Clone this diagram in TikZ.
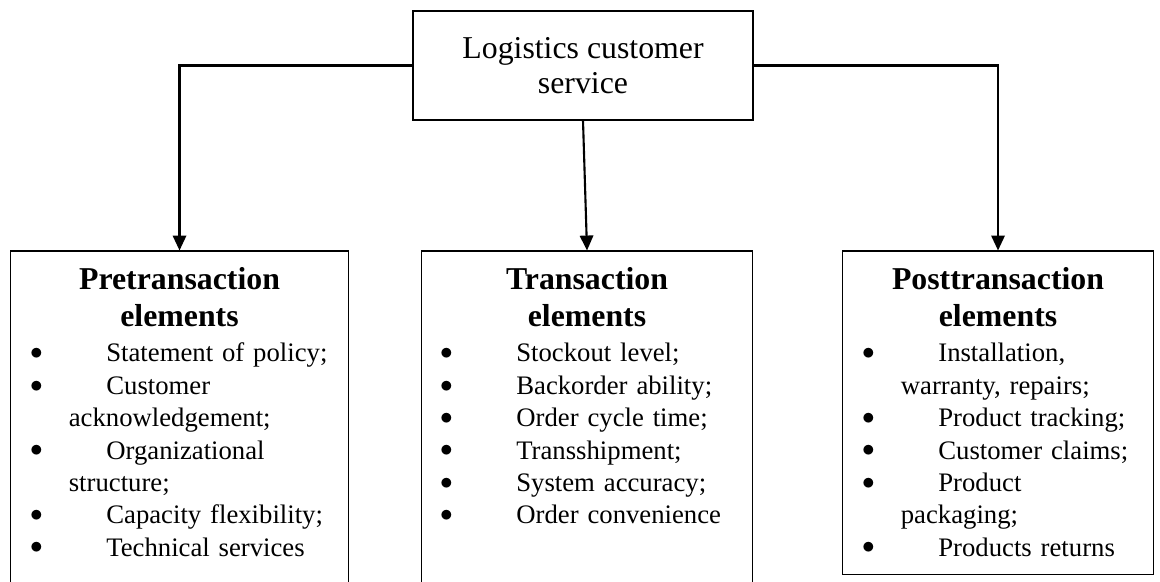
\documentclass[tikz,border=0pt]{standalone}
\usepackage{fontspec}
\setmainfont{Liberation Serif}
\usepackage{tikz}
\usetikzlibrary{arrows.meta}
% list lines: bullet line and wrapped continuation line
\newcommand{\bul}[1]{\makebox[1.48cm][l]{\hspace*{-1.2pt}\raisebox{1.3pt}{$\bullet$}}#1}
\newcommand{\cont}[1]{\hspace*{0.73cm}#1}

\begin{document}
\begin{tikzpicture}[
    box/.style={draw, line width=0.6pt, inner sep=0pt},
    conn/.style={line width=1.2pt, -{Triangle[length=8.5pt,width=7.6pt]}},
    head/.style={anchor=base, text width=6cm, align=center, inner sep=0pt, font=\fontsize{18.1}{21}\selectfont\bfseries},
    items/.style={anchor=base west, text width=6.2cm, align=left, inner sep=0pt, font=\fontsize{15.2}{18.4}\selectfont}]
    \useasboundingbox (0,0) rectangle (23.2,-11.64);
    \node[box, minimum width=6.8cm, minimum height=2.18cm, align=center, font=\fontsize{18.1}{19.9}\selectfont] (lcs) at (11.66,-1.31) {Logistics customer\\service};
    % the three groups
    \node[box, anchor=north west, minimum width=6.76cm, minimum height=7cm] (pre) at (0.2,-5.01) {};
    \node[box, anchor=north west, minimum width=6.62cm, minimum height=7cm] (tra) at (8.42,-5.01) {};
    \node[box, anchor=north west, minimum width=6.22cm, minimum height=6.47cm] (post) at (16.84,-5.01) {};
    \node[head] (preh) at (pre.north |- 0,-5.8) {Pretransaction\\elements};
    \node[head] (trah) at (tra.north |- 0,-5.8) {Transaction\\elements};
    \node[head] (posth) at (post.north |- 0,-5.8) {Posttransaction\\elements};
    \node[items] (prel) at (0.64,-7.24) {\bul{Statement of policy;}\\ \bul{Customer}\\ \cont{acknowledgement;}\\ \bul{Organizational}\\ \cont{structure;}\\ \bul{Capacity flexibility;}\\ \bul{Technical services}};
    \node[items] (tral) at (8.84,-7.24) {\bul{Stockout level;}\\ \bul{Backorder ability;}\\ \bul{Order cycle time;}\\ \bul{Transshipment;}\\ \bul{System accuracy;}\\ \bul{Order convenience}};
    \node[items] (postl) at (17.28,-7.24) {\bul{Installation,}\\ \cont{warranty, repairs;}\\ \bul{Product tracking;}\\ \bul{Customer claims;}\\ \bul{Product}\\ \cont{packaging;}\\ \bul{Products returns}};
    \draw[conn] (lcs.west) -| (pre.north);
    \draw[conn] (lcs.south) -- (tra.north);
    \draw[conn] (lcs.east) -| (post.north);
\end{tikzpicture}
\end{document}
